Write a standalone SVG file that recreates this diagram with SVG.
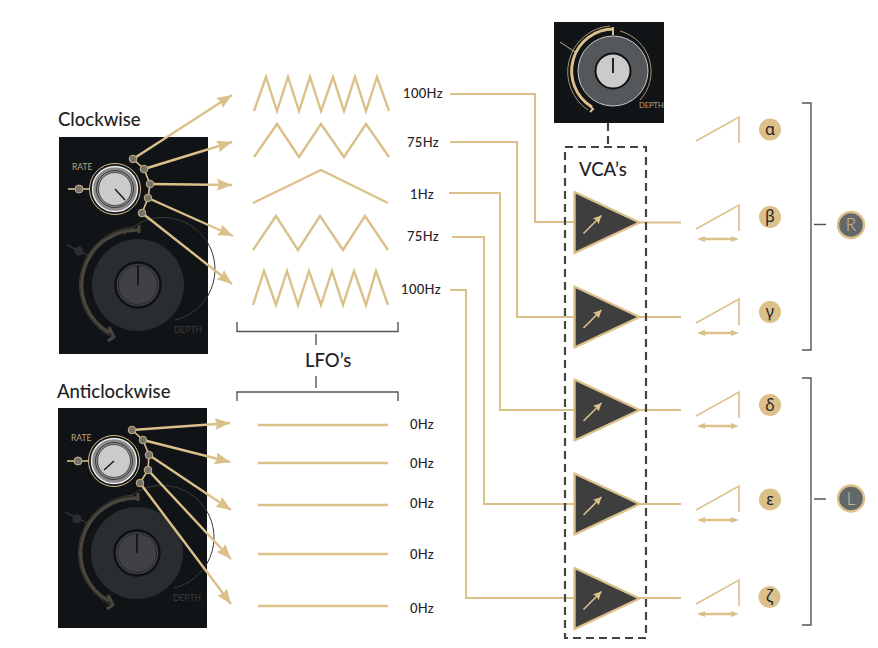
<svg xmlns="http://www.w3.org/2000/svg" width="878" height="648" viewBox="0 0 878 648">
<style>
text{font-family:"Lato","Noto Sans","Liberation Sans",sans-serif;fill:#1f2326}
.hz{font-size:13px;text-anchor:middle;font-weight:500;letter-spacing:.3px}
.h{font-size:18.5px;font-weight:500}
.w{fill:none;stroke:#dcc08a;stroke-width:2.4;stroke-linejoin:miter}
.c{fill:none;stroke:#dcc08a;stroke-width:2}
.a{fill:none;stroke:#dcc08a;stroke-width:2.4;marker-end:url(#ah)}
.r{fill:none;stroke:#dcc08a;stroke-width:1.6}
.d{fill:#dcc08a;stroke:none}
.b{fill:none;stroke:#555;stroke-width:1.4}
.ds{fill:none;stroke:#444;stroke-width:2.2;stroke-dasharray:8 5}
.tri{fill:#3e3e3e;stroke:#dcc08a;stroke-width:2.4;stroke-linejoin:round}
.g{font-size:16px;text-anchor:middle;font-family:"Noto Sans","DejaVu Sans",sans-serif}
.rl{font-size:8.5px;fill:#b9a478;font-family:"Lato",sans-serif}
.dl{font-size:8.5px;fill:#3c3c3a}
.dot{fill:#73736c;stroke:#c9b083;stroke-width:1}
.pan{fill:#111417}
.lrc{fill:#62676a;stroke:#dcc08a;stroke-width:2.4}
.lrt{font-size:17px;text-anchor:middle;fill:#dcc08a;font-weight:300}
</style>
<defs>
<marker id="ah" markerUnits="userSpaceOnUse" markerWidth="16" markerHeight="12" refX="15" refY="6" orient="auto"><path d="M0 0L15 6L0 12L2 6Z" fill="#dcc08a"/></marker>
<marker id="sa" markerUnits="userSpaceOnUse" markerWidth="10" markerHeight="10" refX="8" refY="4" orient="auto"><path d="M0 0L8 4L0 8L1 4Z" fill="#dcc08a"/></marker>
<g id="rate">
<circle r="25.5" fill="#111417" stroke="#dcc08a" stroke-width="1"/>
<circle r="22.5" fill="#8b8b8b" stroke="#eee" stroke-width="1.4"/>
<circle r="18.5" fill="none" stroke="#222" stroke-width=".8"/>
<circle r="16.5" fill="#cbcbcb" stroke="#333" stroke-width=".8"/>
</g>
<g id="depth">
<path d="M2 -60V-55H-6A55 55 0 0 0 -26 49L-20 52L-25 59" fill="none" stroke="#48443c" stroke-width="0"/>
<path d="M1 -55A55 55 0 0 0 -28 48" fill="none" stroke="#4a463e" stroke-width="3.4"/>
<path d="M1 -60V-52M-29 42L-24 52L-30 56" fill="none" stroke="#4a463e" stroke-width="3"/>
<path d="M-3 -58A58 58 0 0 0 -24 53" fill="none" stroke="#3b3a36" stroke-width="1"/>
<path d="M-14 -50A52 52 0 1 1 37 35" fill="none" stroke="#3b3a36" stroke-width="1"/>
<circle r="46" fill="#2a2d2f"/>
<circle r="22.5" fill="#3f4144" stroke="#0e1012" stroke-width="2.4"/>
<circle r="19.5" fill="none" stroke="#25272a" stroke-width="1"/>
<path d="M0 -19V0" stroke="#0e1012" stroke-width="1.6"/>
</g>
<g id="vca">
<path class="tri" d="M0 -30.5V30.5L65 0Z"/>
<path d="M9 11L27 -7" class="r" marker-end="url(#sa)"/>
</g>
<g id="ramp"><path class="r" d="M0 24L43 0V26"/></g>
<g id="dbl"><path d="M0 0L8 -3V-1.300H34V-3L42 0L34 3V1.300H8V3Z" fill="#dcc08a"/></g>
</defs>

<g id="panel-clockwise">
<text class="h" x="58" y="126">Clockwise</text>
<rect class="pan" x="59" y="137" width="149" height="217"/>
<text class="rl" x="72" y="170">RATE</text>
<path class="r" d="M68 189H90" stroke-width="1"/>
<circle class="dot" cx="79" cy="189" r="4"/>
<use href="#rate" x="115" y="189"/>
<path d="M115 189L125 200" stroke="#111" stroke-width="1.300"/>
<path d="M67 245L89 256" stroke="#48443c" stroke-width="1"/>
<circle cx="79" cy="251" r="4.500" fill="#2b2e30"/>
<use href="#depth" x="138" y="285"/>
<text class="dl" x="174" y="333">DEPTH</text>
</g>

<g id="panel-anticlockwise">
<text class="h" x="57" y="398">Anticlockwise</text>
<rect class="pan" x="58" y="408" width="149" height="220"/>
<text class="rl" x="71" y="441">RATE</text>
<path class="r" d="M67 461H89" stroke-width="1"/>
<circle class="dot" cx="78" cy="461" r="4"/>
<use href="#rate" x="114" y="461"/>
<path d="M114 461L104 470" stroke="#111" stroke-width="1.300"/>
<path d="M65 512L87 523" stroke="#48443c" stroke-width="1"/>
<circle cx="77" cy="519" r="4.500" fill="#2b2e30"/>
<use href="#depth" x="137" y="553"/>
<text class="dl" x="173" y="601">DEPTH</text>
</g>

<g id="panel-vca-depth">
<rect class="pan" x="554" y="22" width="110" height="101"/>
<path d="M560 42L575 52" stroke="#c9b083" stroke-width="1"/>
<path d="M614 29A42 42 0 0 0 592 107" fill="none" stroke="#dcc08a" stroke-width="3"/>
<path d="M613 27V35M587 103L593 109L590 112" fill="none" stroke="#dcc08a" stroke-width="2"/>
<path d="M610 26A46 46 0 0 0 588 110" fill="none" stroke="#a8946c" stroke-width="1"/>
<path d="M620 31A42 42 0 0 1 640 100" fill="none" stroke="#a8946c" stroke-width="1"/>
<circle cx="613" cy="71" r="35" fill="#55585a" stroke="#c8c8c8" stroke-width="1"/>
<circle cx="613" cy="71" r="17.500" fill="#cbcbcb" stroke="#111" stroke-width="2"/>
<path d="M613 58V73" stroke="#111" stroke-width="1.800"/>
<text x="639" y="108" font-size="7.500" style="fill:#b9a478">DEPTH</text>
</g>

<g id="waves">
<polyline class="w" points="254,111 266,77 277,111 288,77 299,111 310,77 321,111 333,77 344,111 355,77 366,111 377,77 389,111"/>
<polyline class="w" points="254,157 277,124 299,157 321,124 344,157 366,124 389,157"/>
<polyline class="w" points="253,203 321,170 388,203"/>
<polyline class="w" points="253,250 276,216 298,250 320,216 343,250 365,216 388,250"/>
<polyline class="w" points="253,305 264,271 276,305 287,271 298,305 309,271 321,305 332,271 343,305 354,271 366,305 376,271 388,305"/>
<path class="w" d="M258 425H388M258 463H388M258 505H388M258 554H388M258 606H388"/>
</g>

<g id="lfo-labels">
<text class="hz" x="423" y="98">100Hz</text>
<text class="hz" x="423" y="147">75Hz</text>
<text class="hz" x="422" y="199">1Hz</text>
<text class="hz" x="423" y="241">75Hz</text>
<text class="hz" x="421" y="294">100Hz</text>
<text class="hz" x="422" y="429">0Hz</text>
<text class="hz" x="422" y="468">0Hz</text>
<text class="hz" x="422" y="508">0Hz</text>
<text class="hz" x="422" y="559">0Hz</text>
<text class="hz" x="422" y="613">0Hz</text>
<text class="h" x="305" y="367">LFO’s</text>
<path class="b" d="M237 322V331.500H398V322M316 334V345M316 376V388M237 401V392H398V401"/>
</g>

<g id="connectors">
<path class="a" d="M133 159L232 95"/>
<path class="a" d="M144 169L232 142"/>
<path class="a" d="M150 184L232 185"/>
<path class="a" d="M148 198L233 236"/>
<path class="a" d="M142 213L232 284"/>
<path class="a" d="M132 430L230 423"/>
<path class="a" d="M143 440L230 462"/>
<path class="a" d="M149 455L231 510"/>
<path class="a" d="M148 470L231 559"/>
<path class="a" d="M140 483L231 604"/>
<path class="r" d="M133 159L144 169L150 184L148 198L142 213" stroke-width="1"/>
<path class="r" d="M132 430L143 440L149 455L148 470L140 483" stroke-width="1"/>
<path class="c" d="M450 94H535V222H575"/>
<path class="c" d="M450 142H517V317H575"/>
<path class="c" d="M449 193H500V410H575"/>
<path class="c" d="M452 237H484V504H575"/>
<path class="c" d="M450 290H466V598H575"/>
<path class="c" d="M639 222.500H681M639 317H681M639 410H681M639 504H681M639 598H681"/>
<path class="ds" d="M608 123V147"/>
<rect class="ds" x="565" y="147" width="81" height="491"/>
</g>

<g id="dots">
<circle class="dot" cx="133" cy="159" r="3.800"/><circle class="dot" cx="144" cy="169" r="3.800"/><circle class="dot" cx="150" cy="184" r="3.800"/><circle class="dot" cx="148" cy="198" r="3.800"/><circle class="dot" cx="142" cy="213" r="3.800"/>
<circle class="dot" cx="132" cy="430" r="3.800"/><circle class="dot" cx="143" cy="440" r="3.800"/><circle class="dot" cx="149" cy="455" r="3.800"/><circle class="dot" cx="148" cy="470" r="3.800"/><circle class="dot" cx="140" cy="483" r="3.800"/>
</g>

<g id="vcas">
<text class="h" x="579" y="176">VCA’s</text>
<use href="#vca" x="574.500" y="222.500"/>
<use href="#vca" x="574.500" y="317"/>
<use href="#vca" x="574.500" y="410"/>
<use href="#vca" x="574.500" y="504"/>
<use href="#vca" x="574.500" y="598.500"/>
</g>

<g id="ramps">
<use href="#ramp" x="696" y="117"/>
<use href="#ramp" x="696" y="205"/><use href="#dbl" x="697" y="239"/>
<use href="#ramp" x="696" y="299"/><use href="#dbl" x="697" y="333"/>
<use href="#ramp" x="696" y="392"/><use href="#dbl" x="697" y="426"/>
<use href="#ramp" x="696" y="486"/><use href="#dbl" x="697" y="520"/>
<use href="#ramp" x="696" y="580"/><use href="#dbl" x="697" y="614"/>
</g>

<g id="node-alpha"><circle class="d" cx="770" cy="129.500" r="11"/><text class="g" x="770" y="134.500">α</text></g>
<g id="node-beta"><circle class="d" cx="770" cy="217" r="11"/><text class="g" x="770" y="222">β</text></g>
<g id="node-gamma"><circle class="d" cx="770" cy="312" r="11"/><text class="g" x="770" y="317">γ</text></g>
<g id="node-delta"><circle class="d" cx="770" cy="405" r="11"/><text class="g" x="770" y="410.500">δ</text></g>
<g id="node-epsilon"><circle class="d" cx="770" cy="499.500" r="11"/><text class="g" x="770" y="505">ε</text></g>
<g id="node-zeta"><circle class="d" cx="769.500" cy="597" r="11"/><text class="g" x="769.500" y="602">ζ</text></g>

<g id="bracket-r">
<path class="b" d="M802 103H811V350H802M814 224.500H826"/>
<circle class="lrc" cx="851" cy="225" r="13"/>
<text class="lrt" x="851" y="231">R</text>
</g>
<g id="bracket-l">
<path class="b" d="M802 378H811V625H802M814 499H826"/>
<circle class="lrc" cx="851" cy="498.500" r="13"/>
<text class="lrt" x="851" y="504.500">L</text>
</g>
</svg>
